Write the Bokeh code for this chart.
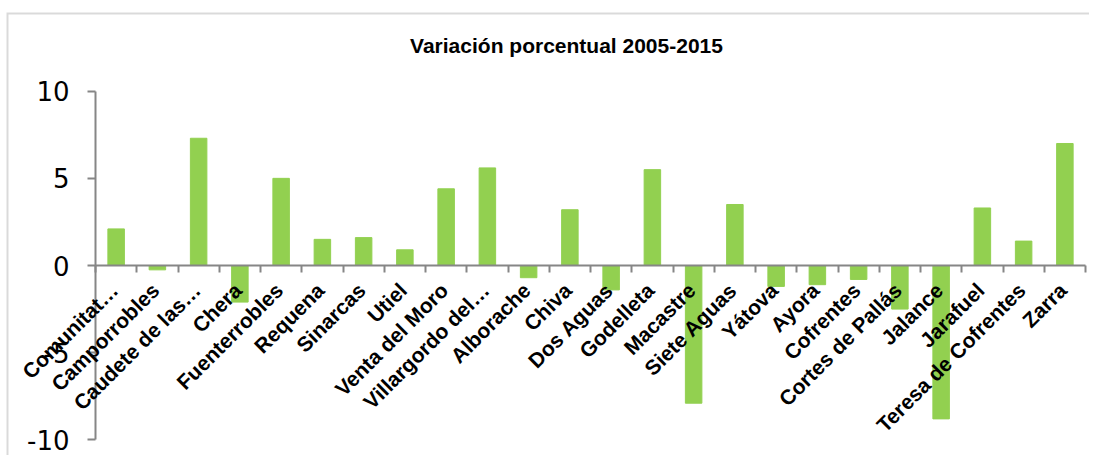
from bokeh.plotting import figure
from bokeh.models import (ColumnDataSource, Range1d, FixedTicker, LabelSet, Label,
                          BoxAnnotation)
from bokeh.core.properties import value
from bokeh.embed import file_html
from bokeh.resources import INLINE

title_text = "Variación porcentual 2005-2015"
categories = ["Comunitat…", "Camporrobles", "Caudete de las…", "Chera",
              "Fuenterrobles", "Requena", "Sinarcas", "Utiel", "Venta del Moro",
              "Villargordo del…", "Alborache", "Chiva", "Dos Aguas", "Godelleta",
              "Macastre", "Siete Aguas", "Yátova", "Ayora", "Cofrentes",
              "Cortes de Pallás", "Jalance", "Jarafuel", "Teresa de Cofrentes", "Zarra"]
values = [2.1, -0.25, 7.3, -2.1, 5.0, 1.5, 1.6, 0.9, 4.4, 5.6, -0.7, 3.2, -1.4, 5.5,
          -7.9, 3.5, -1.2, -1.1, -0.8, -2.5, -8.8, 3.3, 1.4, 7.0]
y_ticks = [-10, -5, 0, 5, 10]
y_tick_labels = {-10: "-10", -5: "-5", 0: "0", 5: "5", 10: "10"}

GREEN = "#92D050"
GRAY = "#868686"

# ---- layout (pixels) ----
W, H = 1089, 455
FRAME_LEFT, FRAME_TOP = 6, 12
AXIS_X_PX, AXIS_END_PX = 95, 1085      # y-axis position and end of category axis
ZERO_PX, TOP_PX = 265, 90.7            # pixel rows of 0 and of the top tick

n = len(categories)
kx = (AXIS_END_PX - AXIS_X_PX) / n
ky = (ZERO_PX - TOP_PX) / y_ticks[-1]
x_start = -(AXIS_X_PX - FRAME_LEFT) / kx
x_end = x_start + (W - FRAME_LEFT) / kx
y_end = (ZERO_PX - FRAME_TOP) / ky
y_start = y_end - (H - FRAME_TOP) / ky

xs = [i + 0.5 for i in range(n)]
src = ColumnDataSource(dict(x=xs, top=values, cat=categories, zero=[0] * n))

p = figure(width=W, height=H, output_backend="svg", toolbar_location=None,
           x_range=Range1d(x_start, x_end), y_range=Range1d(y_start, y_end),
           min_border_left=FRAME_LEFT, min_border_top=FRAME_TOP,
           min_border_right=0, min_border_bottom=0)
p.outline_line_color = None
p.border_fill_color = "white"
p.grid.visible = False

p.vbar(x="x", top="top", width=0.4, source=src, fill_color=GREEN,
       line_color=GREEN)

# y axis at x = 0
ya = p.yaxis[0]
ya.fixed_location = 0
ya.ticker = FixedTicker(ticks=y_ticks)
ya.bounds = (y_ticks[0], y_ticks[-1])
ya.major_label_overrides = y_tick_labels
ya.major_tick_out = 8
ya.major_tick_in = 0
ya.minor_tick_line_color = None
ya.axis_line_color = GRAY
ya.axis_line_width = 2
ya.major_tick_line_color = GRAY
ya.major_tick_line_width = 2
ya.major_label_text_font = "DejaVu Sans"
ya.major_label_text_font_size = "26px"
ya.major_label_text_color = "black"
ya.major_label_standoff = 18

# category axis at y = 0: only boundary (minor) ticks
xa = p.xaxis[0]
xa.fixed_location = 0
xa.ticker = FixedTicker(ticks=[], minor_ticks=list(range(n + 1)))
xa.bounds = (0, n)
xa.major_tick_line_color = None
xa.minor_tick_out = 7
xa.minor_tick_in = 0
xa.minor_tick_line_color = GRAY
xa.minor_tick_line_width = 2
xa.axis_line_color = GRAY
xa.axis_line_width = 2

labels = LabelSet(x="x", y="zero", text="cat", source=src, angle=45, angle_units="deg",
                  text_align="right", text_baseline="top", y_offset=-13, x_offset=-10,
                  text_font=value("Liberation Sans"), text_font_style=value("bold"),
                  text_font_size=value("21px"), text_color="black")
p.add_layout(labels)

# chart border: box whose right and bottom edges lie beyond the visible area
p.add_layout(BoxAnnotation(left=x_start, top=y_end, right=x_end + 5, bottom=y_start - 5,
                           fill_alpha=0, line_color=GRAY, line_width=4))

# title
title_x = (566 - AXIS_X_PX) / kx
title_y = (ZERO_PX - 44.5) / ky
p.add_layout(Label(x=title_x, y=title_y, text=title_text, text_align="center",
                   text_baseline="middle", text_font="Liberation Sans",
                   text_font_style="bold", text_font_size="21px", text_color="black"))

open("out.html", "w").write(file_html(p, INLINE))
